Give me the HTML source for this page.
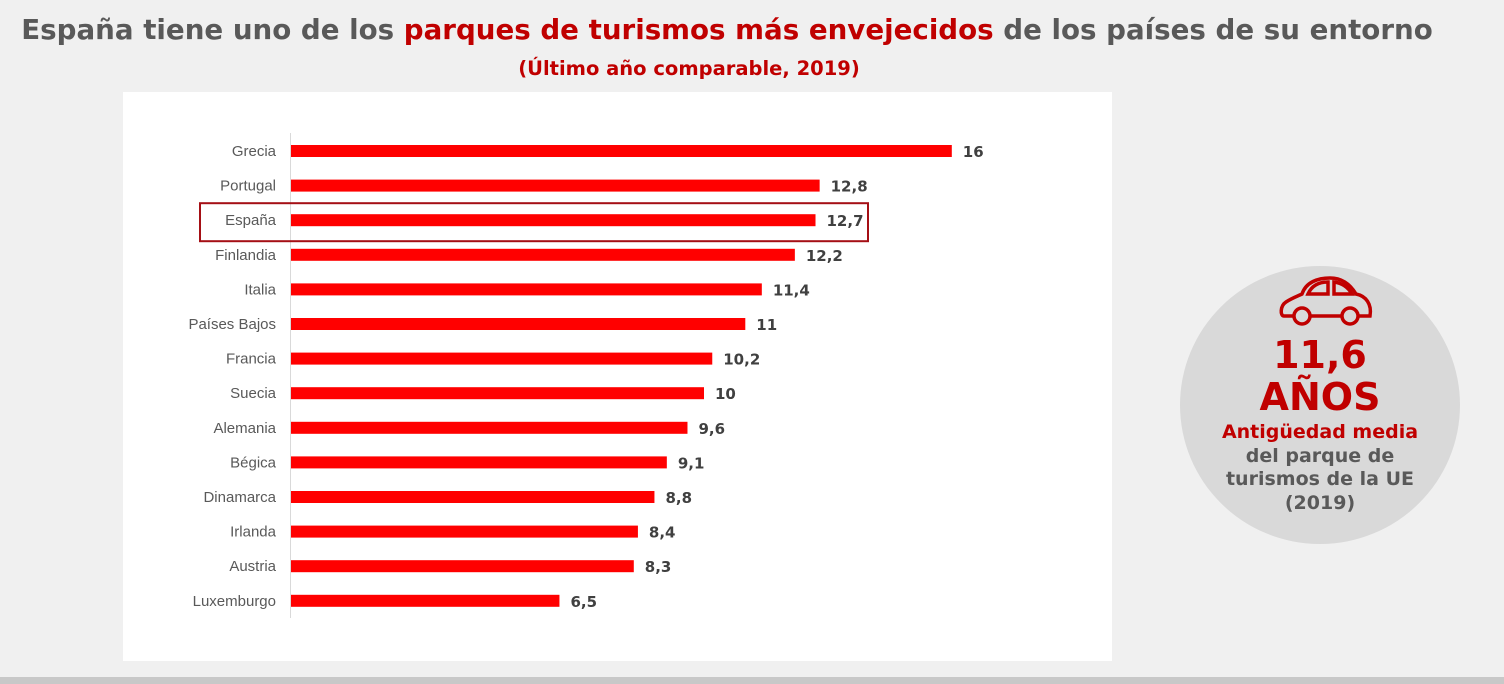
<!DOCTYPE html>
<html><head><meta charset="utf-8"><style>
body{margin:0;width:1504px;height:684px;background:#f0f0f0;overflow:hidden;font-family:"Liberation Sans","DejaVu Sans",sans-serif;position:relative}
.title{position:absolute;left:0;top:13px;width:1454px;text-align:center;font-family:"DejaVu Sans",sans-serif;font-weight:bold;font-size:27.7px;color:#595959;white-space:nowrap}
.title .r{color:#c00000}
.sub{position:absolute;left:0;top:57px;width:1378px;text-align:center;font-family:"DejaVu Sans",sans-serif;font-weight:bold;font-size:19.5px;color:#c00000}
.panel{position:absolute;left:123px;top:92px;width:989px;height:569px;background:#fff}
.bottom{position:absolute;left:0;top:677px;width:1504px;height:7px;background:#c8c8c8}
.circle{position:absolute;left:1180px;top:266px;width:280px;height:278px;border-radius:50%;background:#d9d9d9;text-align:center;font-family:"DejaVu Sans",sans-serif;font-weight:bold}
</style></head><body>
<div class="title">España tiene uno de los <span class="r">parques de turismos más envejecidos</span> de los países de su entorno</div>
<div class="sub">(Último año comparable, 2019)</div>
<div class="panel"></div>
<svg id="chart" width="1504" height="684" style="position:absolute;left:0;top:0"></svg>
<div class="circle">
<svg width="96" height="50" viewBox="0 0 96 50" style="position:absolute;left:98px;top:10px" fill="none" stroke="#c00000" stroke-width="3.5">
<path d="M6 40 C2 40 2 30 8 26 C14 22 20 20 24 18 C28 6 40 2 52 2 C64 2 72 8 78 18 C88 20 94 28 92 40 Z"/>
<path d="M30 18 C34 9 42 6 50 6 L50 18 Z M56 6 C64 7 70 11 74 18 L56 18 Z"/>
<circle cx="24" cy="40" r="8" fill="#d9d9d9"/><circle cx="72" cy="40" r="8" fill="#d9d9d9"/>
</svg>
<div style="position:absolute;left:0;width:280px;top:70px;font-size:38px;line-height:38px;color:#c00000">11,6</div>
<div style="position:absolute;left:0;width:280px;top:112px;font-size:38px;line-height:38px;color:#c00000">AÑOS</div>
<div style="position:absolute;left:0;width:280px;top:155px;font-size:19px;line-height:23.5px;color:#595959"><span style="color:#c00000">Antigüedad media</span><br>del parque de<br>turismos de la UE<br>(2019)</div>
</div>
<div class="bottom"></div>
<script>
const categories=["Grecia","Portugal","España","Finlandia","Italia","Países Bajos","Francia","Suecia","Alemania","Bégica","Dinamarca","Irlanda","Austria","Luxemburgo"];
const values=[16,12.8,12.7,12.2,11.4,11,10.2,10,9.6,9.1,8.8,8.4,8.3,6.5];
const valueLabels=["16","12,8","12,7","12,2","11,4","11","10,2","10","9,6","9,1","8,8","8,4","8,3","6,5"];
const highlight="España";
const NS="http://www.w3.org/2000/svg";
const svg=document.getElementById('chart');
const x0=291,pxPer=41.3,y0=151,step=34.6,bh=12;
const xs=v=>x0+v*pxPer;
const ys=i=>y0+i*step;
function mk(t,a){const e=document.createElementNS(NS,t);for(const k in a)e.setAttribute(k,a[k]);svg.appendChild(e);return e;}
const axis=mk('line',{x1:290.5,x2:290.5,y1:133,y2:618,stroke:'#d9d9d9','stroke-width':1});


categories.forEach((c,i)=>{
  const y=ys(i);
  const r=mk('rect',{x:x0,y:y-bh/2,width:xs(values[i])-x0,height:bh,fill:'#ff0000'});
  
  
  const l=mk('text',{x:276,y:y+5,'text-anchor':'end','font-size':15,fill:'#595959','font-family':'Liberation Sans, sans-serif'});
  l.textContent=c;
  
  
  const v=mk('text',{x:xs(values[i])+11,y:y+6,'font-size':15,'font-weight':'bold',fill:'#404040','font-family':'DejaVu Sans, sans-serif'});
  v.textContent=valueLabels[i];
  
  
  if(c===highlight){
    const b=mk('rect',{x:200,y:y-17,width:668,height:38,fill:'none',stroke:'#a50f15','stroke-width':2});
    
    
  }
});
</script>
</body></html>
